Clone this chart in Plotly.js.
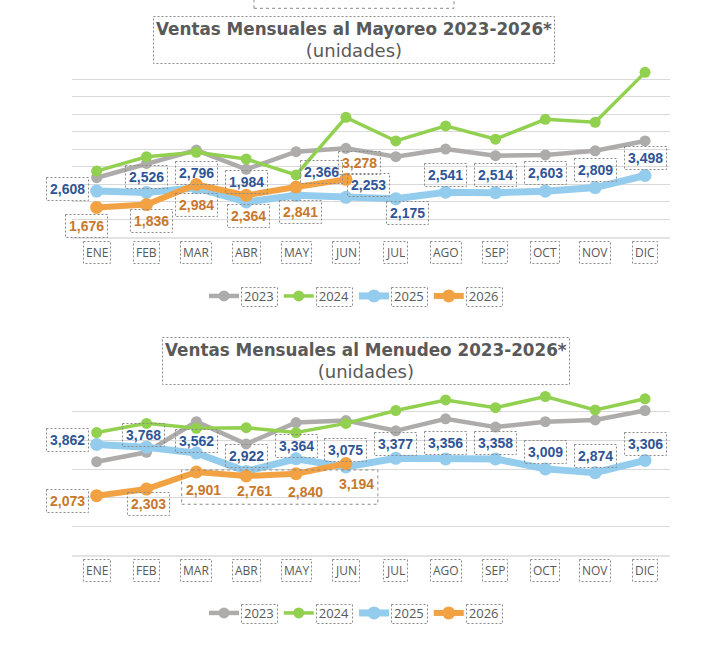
<!DOCTYPE html>
<html>
<head>
<meta charset="utf-8">
<script src="https://cdn.plot.ly/plotly-3.0.1.min.js"></script>
<style>
  html, body { margin: 0; padding: 0; background: #ffffff; }
  #chart { width: 708px; height: 664px; }
  /* dotted frames around titles, tick labels and value labels */
  .annotation rect.bg { stroke-dasharray: 2 2; }
  .legend-frame { fill: none; stroke: #8a8a8a; stroke-width: 1px; stroke-dasharray: 2 2; }
</style>
</head>
<body>
<div id="chart"></div>
<script>
// ---- data ----
const months = ["ENE", "FEB", "MAR", "ABR", "MAY", "JUN", "JUL", "AGO", "SEP", "OCT", "NOV", "DIC"];
const years = ["2023", "2024", "2025", "2026"];

// Mayoreo (units)
const mayoreo2023 = [3370, 4190, 4950, 3850, 4860, 5050, 4570, 5010, 4630, 4670, 4910, 5470];
const mayoreo2024 = [3750, 4570, 4820, 4440, 3530, 6820, 5470, 6330, 5570, 6710, 6540, 9390];
const mayoreo2025 = [2608, 2526, 2796, 1984, 2366, 2253, 2175, 2541, 2514, 2603, 2809, 3498];
const mayoreo2026 = [1676, 1836, 2984, 2364, 2841, 3278];

// Menudeo (units)
const menudeo2023 = [3260, 3590, 4660, 3880, 4630, 4700, 4340, 4760, 4470, 4660, 4720, 5050];
const menudeo2024 = [4280, 4600, 4430, 4450, 4280, 4600, 5050, 5420, 5150, 5540, 5070, 5460];
const menudeo2025 = [3862, 3768, 3562, 2922, 3364, 3075, 3377, 3356, 3358, 3009, 2874, 3306];
const menudeo2026 = [2073, 2303, 2901, 2761, 2840, 3194];

const titleMayoreo = "Ventas Mensuales al Mayoreo 2023-2026*";
const titleMenudeo = "Ventas Mensuales al Menudeo 2023-2026*";
const subtitle = "(unidades)";

// ---- styling ----
const colors = { "2023": "#AEABAB", "2024": "#92D050", "2025": "#94CCEE", "2026": "#F2A143" };
const lineWidths = { "2023": 4.5, "2024": 3.5, "2025": 7, "2026": 6 };
const markerSizes = { "2023": 11, "2024": 11, "2025": 13, "2026": 13 };
const textGray = "#595959";
const blueText = "#2F5597";
const orangeText = "#C7782C";
const frameGray = "#8a8a8a";

// label offsets in px [dx, dy], dy downwards
const shiftMay25 = [[-29,-2],[0,-16],[0,-15],[0,-20],[25,-23],[23,-12],[12,14],[0,-17.5],[0,-18],[0,-18],[0,-17.5],[0,-17]];
const shiftMay26 = [[-10,19],[5,16],[0,21],[2,21],[4,25],[14,-16]];
const shiftMen25 = [[-29,-4],[-3,-12],[0,-12],[0,-15],[0,-13],[0,-17],[0,-14],[0,-16],[0,-16],[0,-17],[0,-17],[0,-16]];
const shiftMen26 = [[-29,5],[2,15],[7,18],[8,15],[9,18],[11,20]];
const framedMen26 = [true, true, false, false, false, false];

function series(vals, year, xa, ya, legendId) {
  return {
    type: "scatter", mode: "lines+markers",
    x: months.slice(0, vals.length), y: vals,
    name: year, xaxis: xa, yaxis: ya, legend: legendId,
    line: { color: colors[year], width: lineWidths[year] },
    marker: { color: colors[year], size: markerSizes[year] },
    hoverinfo: "skip"
  };
}

const traces = [
  series(mayoreo2023, "2023", "x", "y", "legend"),
  series(mayoreo2024, "2024", "x", "y", "legend"),
  series(mayoreo2025, "2025", "x", "y", "legend"),
  series(mayoreo2026, "2026", "x", "y", "legend"),
  series(menudeo2023, "2023", "x2", "y2", "legend2"),
  series(menudeo2024, "2024", "x2", "y2", "legend2"),
  series(menudeo2025, "2025", "x2", "y2", "legend2"),
  series(menudeo2026, "2026", "x2", "y2", "legend2")
];

const fmt = v => v.toLocaleString("en-US");

function valueLabels(vals, shifts, color, xa, ya, framed) {
  return vals.map((v, i) => ({
    x: months[i], y: v, xref: xa, yref: ya,
    text: "<b>" + fmt(v) + "</b>", showarrow: false,
    xanchor: "center", yanchor: "middle",
    xshift: shifts[i][0], yshift: -shifts[i][1],
    font: { family: "Liberation Sans, Arial, sans-serif", size: 14, color: color },
    bordercolor: (framed && !framed[i]) ? "rgba(0,0,0,0)" : frameGray,
    borderwidth: 1, borderpad: 3
  }));
}

function monthLabels(xa, ya) {
  return months.map(m => ({
    x: m, y: 0, xref: xa, yref: ya, text: m, showarrow: false,
    xanchor: "center", yanchor: "middle", yshift: -15.5,
    font: { family: "Open Sans, sans-serif", size: 12, color: textGray },
    bordercolor: frameGray, borderwidth: 1, borderpad: 2
  }));
}

function chartTitle(text, x, y) {
  return {
    xref: "paper", yref: "paper", x: x, y: y, xanchor: "center", yanchor: "middle",
    showarrow: false, align: "center",
    text: "<b>" + text + "</b><br><span style='font-size:18px'>" + subtitle + "</span>",
    font: { family: "DejaVu Sans, sans-serif", size: 16.8, color: textGray },
    bordercolor: frameGray, borderwidth: 1, borderpad: 2
  };
}

const annotations = [].concat(
  [chartTitle(titleMayoreo, 0.4997, 0.9398), chartTitle(titleMenudeo, 0.517, 0.4558)],
  monthLabels("x", "y"), monthLabels("x2", "y2"),
  valueLabels(mayoreo2025, shiftMay25, blueText, "x", "y"),
  valueLabels(mayoreo2026, shiftMay26, orangeText, "x", "y"),
  valueLabels(menudeo2025, shiftMen25, blueText, "x2", "y2"),
  valueLabels(menudeo2026, shiftMen26, orangeText, "x2", "y2", framedMen26)
);

const xAxisBase = {
  type: "category", categoryorder: "array", categoryarray: months,
  range: [-0.5, 11.5], domain: [0.1013, 0.9463],
  showticklabels: false, ticks: "", showgrid: false,
  showline: true, linecolor: "#e3e3e3", linewidth: 2, fixedrange: true
};
const yAxisBase = {
  showticklabels: false, ticks: "", zeroline: false,
  showgrid: true, gridcolor: "#d9d9d9", gridwidth: 1, fixedrange: true
};
const legendBase = {
  orientation: "h", x: 0.5, xanchor: "center", yanchor: "middle",
  font: { family: "Open Sans, sans-serif", size: 13, color: textGray },
  bgcolor: "rgba(0,0,0,0)", itemclick: false, itemdoubleclick: false
};
const legendTopPx = 296, legendBottomPx = 613;

const dotted = { color: frameGray, width: 1, dash: "dot" };

const layout = {
  width: 708, height: 664,
  margin: { l: 0, r: 0, t: 0, b: 0 },
  paper_bgcolor: "#ffffff", plot_bgcolor: "#ffffff",
  showlegend: true,
  xaxis: Object.assign({}, xAxisBase, { anchor: "y" }),
  yaxis: Object.assign({}, yAxisBase, { anchor: "x", domain: [0.6435, 0.9071], range: [0, 10000], dtick: 1000 }),
  xaxis2: Object.assign({}, xAxisBase, { anchor: "y2" }),
  yaxis2: Object.assign({}, yAxisBase, { anchor: "x2", domain: [0.1642, 0.4227], range: [0, 6000], dtick: 1000 }),
  legend: Object.assign({}, legendBase, { y: 1 - legendTopPx / 664 }),
  legend2: Object.assign({}, legendBase, { y: 1 - legendBottomPx / 664 }),
  annotations: annotations,
  shapes: [
    // shared frame for the menudeo 2026 labels MAR-JUN
    { type: "rect", xref: "x2", yref: "y2", x0: 1.705, x1: 5.64, y0: 1773, y1: 2972, line: dotted, layer: "above" },
    // frame peeking in at the top edge
    { type: "rect", xref: "paper", yref: "paper", x0: 254 / 708, x1: 454 / 708, y0: 1 - 8.3 / 664, y1: 1.05, line: dotted }
  ]
};

function frameLegendTexts() {
  // dotted frames around each legend entry text; both legends share the same
  // horizontal layout, so the upper legend's boxes are repeated for the lower one
  const svgs = gd.querySelectorAll("svg.main-svg");
  const top = svgs[svgs.length - 1];
  const origin = top.getBoundingClientRect();
  const ns = "http://www.w3.org/2000/svg";
  const g = document.createElementNS(ns, "g");
  top.appendChild(g);
  gd.querySelectorAll("g.legend text.legendtext").forEach(t => {
    const b = t.getBoundingClientRect();
    if (b.width === 0) return;
    const cy = (b.top + b.bottom) / 2 - origin.top;
    [0, legendBottomPx - legendTopPx].forEach(dy => {
      const r = document.createElementNS(ns, "rect");
      r.setAttribute("class", "legend-frame");
      r.setAttribute("x", Math.round(b.left - origin.left - 3) + 0.5);
      r.setAttribute("y", Math.round(cy - 9.5 + dy) + 0.5);
      r.setAttribute("width", Math.round(b.width + 6));
      r.setAttribute("height", 19);
      g.appendChild(r);
    });
  });
}

const gd = document.getElementById("chart");
Plotly.newPlot(gd, traces, layout, { displayModeBar: false, staticPlot: true })
  .then(() => new Promise(res => setTimeout(res, 50)))
  .then(frameLegendTexts);
</script>
</body>
</html>
